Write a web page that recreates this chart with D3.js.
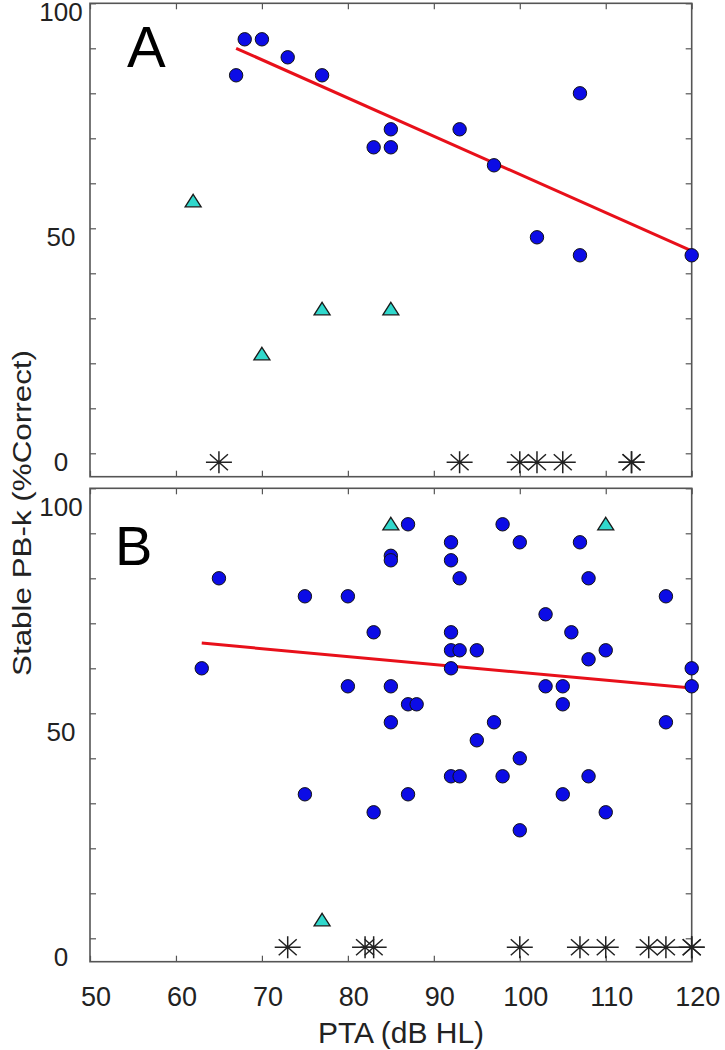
<!DOCTYPE html>
<html><head><meta charset="utf-8">
<script src="https://cdn.jsdelivr.net/npm/d3@7"></script>
<style>body{margin:0;background:#fff}svg{display:block}text{font-family:"Liberation Sans",Arial,sans-serif;fill:#222}</style>
</head><body><svg id="c" width="725" height="1050"></svg>
<script>
// ---- Data (PTA dB HL, Stable PB-k %Correct) ----
const aCircleX = [67,68,70,73,77,83,85,85,93,97,107,102,107,120];
const aCircleY = [84,92,92,88,84,68,68,72,72,64,80,48,44,44];
const aTriX = [62,70,77,85];
const aTriY = [56,22,32,32];
const aStarX = [65,93,100,102,105,113,113];
const aFit = {x:[67,120], y:[90,45]};

const bCircleX = [63,65,75,75,80,80,83,83,85,85,85,85,87,87,87,88,92,92,92,92,92,92,93,93,93,95,95,97,98,98,100,100,100,103,103,105,105,105,106,107,108,108,108,110,110,117,117,120,120];
const bCircleY = [60,80,76,32,76,56,68,28,85,84,56,48,92,32,52,52,88,84,68,64,60,36,80,64,36,64,44,48,92,36,88,40,24,72,56,56,52,32,68,88,80,62,36,64,28,76,48,60,56];
const bTriX = [85,110,77];
const bTriY = [92,92,4];
const bStarX = [73,82,83,100,107,110,115,117,120,120];
const bFit = {x:[63,120], y:[65.6,55.6]};

const starY = -2;
const xTicks = [50,60,70,80,90,100,110,120];
const yLabelTicks = [0,50,100];
const yMinorTicks = [0,10,20,30,40,50,60,70,80,90,100];

const svg = d3.select("#c");
const x = d3.scaleLinear().domain([50,120]).range([90,691.7]);

const panels = [
  {top:3.3, bottom:476.7, letter:"A", lx:127, ly:67, lsize:58, labOff:9,
   cx:aCircleX, cy:aCircleY, tx:aTriX, ty:aTriY, sx:aStarX, fit:aFit, xlabels:false},
  {top:488.3, bottom:961.7, letter:"B", lx:115, ly:565, lsize:56, labOff:19,
   cx:bCircleX, cy:bCircleY, tx:bTriX, ty:bTriY, sx:bStarX, fit:bFit, xlabels:true}
];

const axisColor = "#555";
panels.forEach(p => {
  const y = d3.scaleLinear().domain([-5.2,100]).range([p.bottom,p.top]);
  const g = svg.append("g");
  const L = x.range()[0], R = x.range()[1];
  // ticks (inward) on all four sides via d3 axes
  const tl = 6;
  g.append("g").attr("transform",`translate(0,${p.bottom})`)
    .call(d3.axisBottom(x).tickValues(xTicks).tickSizeInner(-tl).tickSizeOuter(0).tickFormat(""));
  g.append("g").attr("transform",`translate(0,${p.top})`)
    .call(d3.axisTop(x).tickValues(xTicks).tickSizeInner(-tl).tickSizeOuter(0).tickFormat(""));
  g.append("g").attr("transform",`translate(${L},0)`)
    .call(d3.axisLeft(y).tickValues(yMinorTicks).tickSizeInner(-tl).tickSizeOuter(0).tickFormat(""));
  g.append("g").attr("transform",`translate(${R},0)`)
    .call(d3.axisRight(y).tickValues(yMinorTicks).tickSizeInner(-tl).tickSizeOuter(0).tickFormat(""));
  g.selectAll(".domain").remove();
  g.selectAll(".tick line").attr("stroke",axisColor).attr("stroke-width",1.2);
  g.append("rect").attr("x",L).attr("y",p.top).attr("width",R-L).attr("height",p.bottom-p.top)
    .attr("fill","none").attr("stroke",axisColor).attr("stroke-width",1.6);

  // y tick labels
  g.selectAll(".yl").data(yLabelTicks).join("text")
    .attr("x",61).attr("y",d=>y(d)+p.labOff).attr("text-anchor","middle")
    .attr("dominant-baseline","central").attr("font-size",26).text(d=>d);

  if (p.xlabels) {
    g.selectAll(".xl").data(xTicks).join("text")
      .attr("x",d=>x(d)+6).attr("y",997).attr("text-anchor","middle")
      .attr("dominant-baseline","central").attr("font-size",27).text(d=>d);
  }

  // panel letter
  g.append("text").attr("x",p.lx).attr("y",p.ly).attr("font-size",p.lsize).style("fill","#000").text(p.letter);

  // fit line
  g.append("line").attr("x1",x(p.fit.x[0])).attr("y1",y(p.fit.y[0]))
    .attr("x2",x(p.fit.x[1])).attr("y2",y(p.fit.y[1]))
    .attr("stroke","#e8101a").attr("stroke-width",3);

  // asterisks
  const starPath = "M-13,0L13,0M0,-11L0,11M-9,-8L9,8M-9,8L9,-8";
  g.selectAll(".st").data(p.sx).join("path")
    .attr("transform",d=>`translate(${x(d)},${y(starY)})`)
    .attr("d",starPath).attr("stroke","#222").attr("stroke-width",1.5).attr("fill","none");

  // triangles
  const triPath = "M0,-7L8,5.5L-8,5.5Z";
  g.selectAll(".tr").data(p.tx.map((v,i)=>[v,p.ty[i]])).join("path")
    .attr("transform",d=>`translate(${x(d[0])},${y(d[1])})`)
    .attr("d",triPath).attr("fill","#30d8cc").attr("stroke","#1a1a1a").attr("stroke-width",1.3);

  // circles
  g.selectAll(".ci").data(p.cx.map((v,i)=>[v,p.cy[i]])).join("circle")
    .attr("cx",d=>x(d[0])).attr("cy",d=>y(d[1])).attr("r",6.7)
    .attr("fill","#0c0ce6").attr("stroke","#111").attr("stroke-width",1);
});

// axis titles
svg.append("text").attr("x",401).attr("y",1032).attr("text-anchor","middle")
  .attr("dominant-baseline","central").attr("font-size",30).text("PTA (dB HL)");
svg.append("text").attr("transform","translate(22,513) rotate(-90)")
  .attr("text-anchor","middle").attr("dominant-baseline","central")
  .attr("font-size",26).attr("textLength",326).attr("lengthAdjust","spacingAndGlyphs")
  .text("Stable PB-k (%Correct)");
</script></body></html>
